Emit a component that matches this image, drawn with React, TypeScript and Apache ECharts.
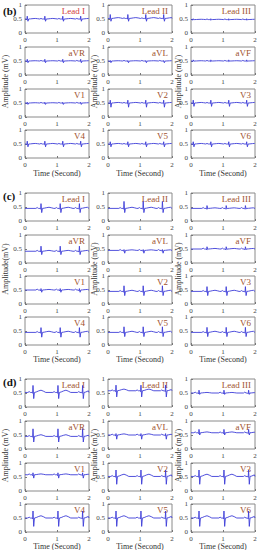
import { useEffect, useRef } from "react";
import * as echarts from "echarts";

const LEADS = ["Lead I", "Lead II", "Lead III", "aVR", "aVL", "aVF", "V1", "V2", "V3", "V4", "V5", "V6"];
const PANEL_LABELS = ["(b)", "(c)", "(d)"];
const Y_NAMES = ["Amplitude (mV)", "Amplitude(mV)", "Amplitude (mV)"];
const X_NAME = "Time (Second)";

// R-peak times (s) per panel
const BEATS_B = [0.07, 0.62, 1.18, 1.74];
const BEATS_C = [0.5, 1.1, 1.7];
const BEATS_D = [0.25, 1.03, 1.8];

// one beat: offset from R peak (s), wave it belongs to, share of that wave
const TPL_DT = [-0.16, -0.12, -0.08, -0.035, -0.012, 0, 0.022, 0.045, 0.1, 0.18, 0.25, 0.32, 0.4];
const TPL_KIND = ["P", "P", "P", "Q", "Q", "R", "S", "0", "T", "T", "T", "T", "T"];
const TPL_W = [0, 1, 0, 0, 1, 1, 1, 0, 0.2, 0.7, 1, 0.6, 0];

// per-lead values (mV)
const B_BASE = [0.5, 0.52, 0.48, 0.5, 0.5, 0.5, 0.5, 0.5, 0.5, 0.5, 0.5, 0.5];
const B_R = [0.1, 0.14, 0.03, 0.06, 0.02, 0.04, 0.03, 0.1, 0.1, 0.1, 0.08, 0.08];
const B_S = [-0.08, -0.1, -0.01, -0.06, -0.06, -0.01, -0.05, -0.15, -0.12, -0.1, -0.1, -0.1];
const B_T = [0.02, 0.03, 0.01, 0.01, 0.01, 0.01, 0.01, 0.02, 0.02, 0.02, 0.02, 0.02];

const C_BASE = [0.45, 0.45, 0.45, 0.42, 0.45, 0.5, 0.5, 0.45, 0.45, 0.45, 0.45, 0.45];
const C_R = [0.17, 0.25, 0.1, 0.18, 0.03, 0.08, 0.05, 0.2, 0.17, 0.17, 0.2, 0.18];
const C_S = [-0.15, -0.15, -0.02, -0.12, -0.1, -0.02, -0.08, -0.15, -0.15, -0.17, -0.15, -0.15];
const C_T = [0.04, 0.04, 0.02, 0.03, 0.02, 0.02, 0.02, 0.04, 0.04, 0.04, 0.04, 0.04];

const D_BASE = [0.52, 0.58, 0.5, 0.45, 0.5, 0.58, 0.58, 0.52, 0.52, 0.5, 0.5, 0.5];
const D_R = [0.25, 0.2, 0.1, 0.27, 0.05, 0.12, 0.07, 0.23, 0.23, 0.25, 0.25, 0.25];
const D_S = [-0.22, -0.22, -0.05, -0.2, -0.15, -0.08, -0.12, -0.28, -0.28, -0.3, -0.3, -0.3];
const D_T = [0.08, 0.06, 0.02, 0.06, 0.04, 0.03, 0.03, 0.08, 0.08, 0.08, 0.08, 0.08];

const P_AMP = [0.02, 0.03, 0.03];
const Q_AMP = [-0.02, -0.03, -0.03];

const PANELS = [
  { beats: BEATS_B, base: B_BASE, r: B_R, s: B_S, t: B_T },
  { beats: BEATS_C, base: C_BASE, r: C_R, s: C_S, t: C_T },
  { beats: BEATS_D, base: D_BASE, r: D_R, s: D_S, t: D_T },
];

// layout (px)
const COL_LEFT = [25, 108, 191];
const COL_W = 64;
const ROW_TOP = [
  [5, 47, 89, 130],
  [193, 235, 276, 317],
  [379, 421, 463, 504],
];
const ROW_H = 28;
const PANEL_LABEL_Y = [11, 196, 382];
const TIME_Y = [173, 359, 546];
const AMP_X = [5, 94, 178];

const SERIF = "'Liberation Serif', 'DejaVu Serif', serif";
const LINE_COLOR = "#3d3dd8";
const LABEL_COLOR = "#a0522d";

function leadData(p: number, l: number): [number, number][] {
  const pn = PANELS[p];
  const base = pn.base[l];
  const amp: Record<string, number> = {
    P: P_AMP[p],
    Q: Q_AMP[p],
    R: pn.r[l],
    S: pn.s[l],
    T: pn.t[l],
    "0": 0,
  };
  const pts: [number, number][] = [[0, base], [2, base]];
  pn.beats.forEach((tb) => {
    TPL_DT.forEach((dt, k) => {
      const t = tb + dt;
      if (t > 0 && t < 2) pts.push([+t.toFixed(3), +(base + amp[TPL_KIND[k]] * TPL_W[k]).toFixed(3)]);
    });
  });
  pts.sort((a, b) => a[0] - b[0]);
  return pts;
}

export default function App() {
  const ref = useRef<HTMLDivElement>(null);
  useEffect(() => {
    if (!ref.current) return;
    const chart = echarts.init(ref.current, null, { renderer: "svg" });
    const grids: any[] = [];
    const xAxes: any[] = [];
    const yAxes: any[] = [];
    const series: any[] = [];
    const graphics: any[] = [];
    let idx = 0;
    for (let p = 0; p < 3; p++) {
      for (let l = 0; l < 12; l++) {
        const row = Math.floor(l / 3);
        const col = l % 3;
        const left = COL_LEFT[col];
        const top = ROW_TOP[p][row];
        grids.push({
          left,
          top,
          width: COL_W,
          height: ROW_H,
          show: true,
          borderColor: "#8a8a8a",
          borderWidth: 1,
          containLabel: false,
        });
        xAxes.push({
          type: "value",
          gridIndex: idx,
          min: 0,
          max: 2,
          interval: 1,
          axisLine: { show: false },
          axisTick: { show: true, inside: true, length: 2, lineStyle: { color: "#777" } },
          axisLabel: { fontSize: 7, margin: 3, color: "#444", fontFamily: SERIF },
          splitLine: { show: false },
        });
        yAxes.push({
          type: "value",
          gridIndex: idx,
          min: 0,
          max: 1,
          interval: 0.5,
          axisLine: { show: false },
          axisTick: { show: true, inside: true, length: 2, lineStyle: { color: "#777" } },
          axisLabel: { fontSize: 7, margin: 3, color: "#444", fontFamily: SERIF },
          splitLine: { show: false },
        });
        series.push({
          type: "line",
          xAxisIndex: idx,
          yAxisIndex: idx,
          data: leadData(p, l),
          showSymbol: false,
          symbol: "none",
          lineStyle: { width: 0.9, color: LINE_COLOR },
          silent: true,
        });
        graphics.push({
          type: "text",
          x: left + COL_W - 4,
          y: top + 6,
          style: {
            text: LEADS[l],
            fontSize: 9,
            fontFamily: SERIF,
            fill: p === 0 && l === 0 ? "#d23a3a" : LABEL_COLOR,
            align: "right",
            verticalAlign: "middle",
          },
        });
        idx++;
      }
      graphics.push({
        type: "text",
        x: 3,
        y: PANEL_LABEL_Y[p],
        style: {
          text: PANEL_LABELS[p],
          fontSize: 11,
          fontWeight: "bold",
          fontFamily: SERIF,
          fill: "#111",
          align: "left",
          verticalAlign: "middle",
        },
      });
      const midY = (ROW_TOP[p][0] + ROW_TOP[p][3] + ROW_H) / 2;
      for (let c = 0; c < 3; c++) {
        graphics.push({
          type: "text",
          x: COL_LEFT[c] + COL_W / 2,
          y: TIME_Y[p],
          style: {
            text: X_NAME,
            fontSize: 8,
            fontFamily: SERIF,
            fill: "#333",
            align: "center",
            verticalAlign: "middle",
          },
        });
        graphics.push({
          type: "text",
          x: AMP_X[c],
          y: midY,
          rotation: Math.PI / 2,
          style: {
            text: c === 0 ? Y_NAMES[p] : "Amplitude (mV)",
            fontSize: 8,
            fontFamily: SERIF,
            fill: "#333",
            align: "center",
            verticalAlign: "middle",
          },
        });
      }
    }
    chart.setOption({
      animation: false,
      backgroundColor: "#ffffff",
      grid: grids,
      xAxis: xAxes,
      yAxis: yAxes,
      series,
      graphic: graphics,
    });
    return () => chart.dispose();
  }, []);
  return (
    <div
      ref={ref}
      style={{ position: "fixed", left: 0, top: 0, width: 262, height: 550 }}
    />
  );
}
